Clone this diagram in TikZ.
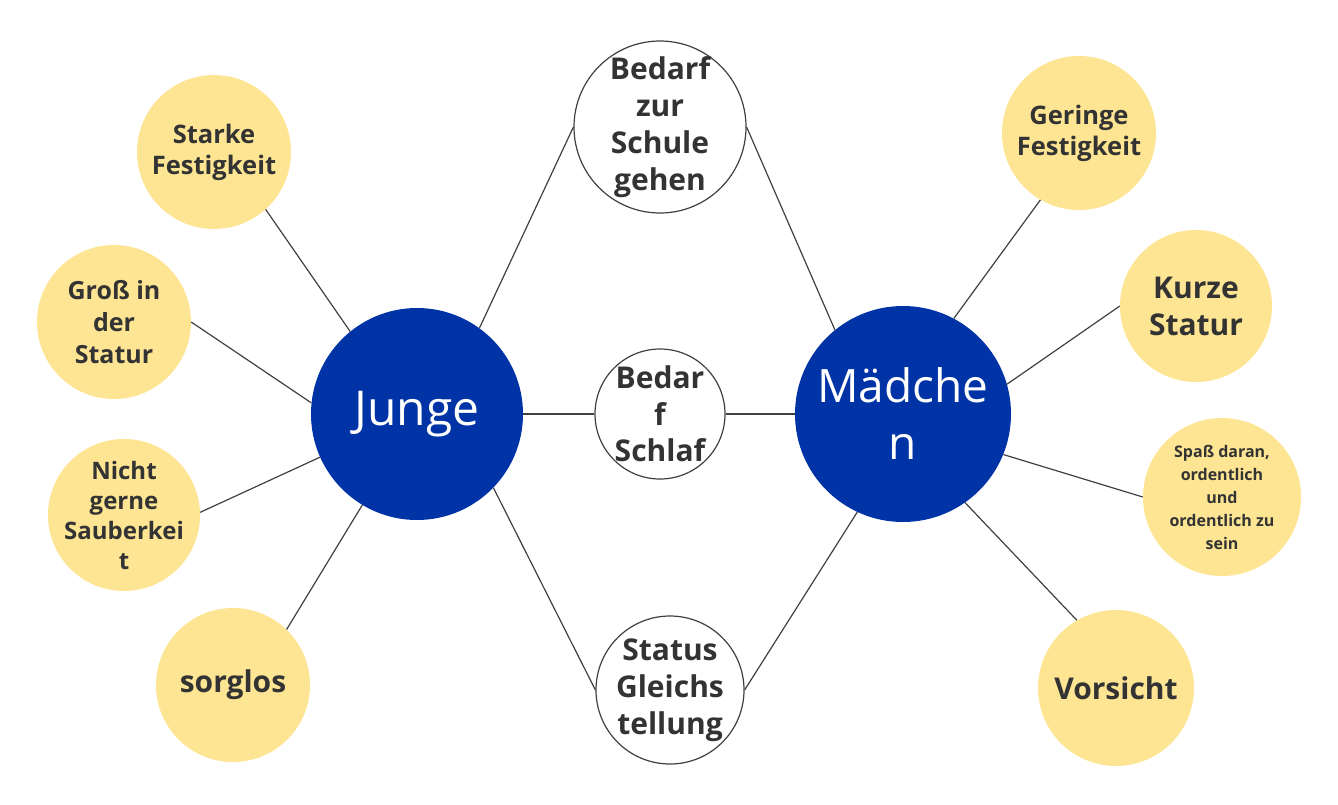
\documentclass[tikz,border=0pt]{standalone}
\usepackage{fontspec}
\setmainfont{Open Sans}
\definecolor{jblue}{HTML}{0033A6}
\definecolor{ylw}{HTML}{FDE593}
\definecolor{txt}{HTML}{333333}
\definecolor{ln}{HTML}{404040}
\begin{document}
\begin{tikzpicture}[x=1pt,y=-1pt,
  bigc/.style={circle, fill=jblue, inner sep=0pt},
  yelc/.style={circle, fill=ylw, inner sep=0pt},
  whtc/.style={circle, draw=ln, line width=1.2pt, fill=white, inner sep=0pt},
  bigt/.style={text=white, align=center, font=\fontsize{48}{57}\selectfont},
  yelt/.style={text=txt, align=center, font=\bfseries\fontsize{25.5}{31}\selectfont},
  whtt/.style={text=txt, align=center, font=\bfseries\fontsize{30}{37}\selectfont},
  conn/.style={draw=ln, line width=1.2pt}]
\useasboundingbox (0,0) rectangle (1338,804);
% central nodes
\node[bigc, minimum size=212pt, label={[bigt]center:Junge}] (junge) at (417,414) {};
\node[bigc, minimum size=216pt, label={[bigt, font=\fontsize{46}{57}\selectfont]center:Mädche\\n}] (maedchen) at (903,414) {};
% middle white nodes
\node[whtc, minimum size=172pt, label={[whtt]center:Bedarf\\zur\\Schule\\gehen}] (schule) at (660,127) {};
\node[whtc, minimum size=130pt, label={[whtt, font=\bfseries\fontsize{30}{36.5}\selectfont]center:Bedar\\f\\Schlaf}] (schlaf) at (660,414) {};
\node[whtc, minimum size=148pt, label={[whtt]center:Status\\Gleichs\\tellung}] (status) at (670,690) {};
% left yellow nodes
\node[yelc, minimum size=154pt, label={[yelt]center:Starke\\Festigkeit}] (starke) at (214,152) {};
\node[yelc, minimum size=154pt, label={[yelt, font=\bfseries\fontsize{25}{32}\selectfont]center:Groß in\\der\\Statur}] (gross) at (114,322) {};
\node[yelc, minimum size=152pt, label={[yelt, font=\bfseries\fontsize{24}{30}\selectfont]center:Nicht\\gerne\\Sauberkei\\t}] (nicht) at (124,515) {};
\node[yelc, minimum size=154pt, label={[yelt, font=\bfseries\fontsize{30}{37}\selectfont]center:sorglos}] (sorglos) at (233,685) {};
% right yellow nodes
\node[yelc, minimum size=154pt, label={[yelt]center:Geringe\\Festigkeit}] (geringe) at (1079,133) {};
\node[yelc, minimum size=152pt, label={[yelt, font=\bfseries\fontsize{30}{37}\selectfont]center:Kurze\\Statur}] (kurze) at (1196,306) {};
\node[yelc, minimum size=158pt, label={[yelt, font=\bfseries\fontsize{16}{23}\selectfont]center:Spaß daran,\\ordentlich\\und\\ordentlich zu\\sein}] (spass) at (1222,497) {};
\node[yelc, minimum size=156pt, label={[yelt, font=\bfseries\fontsize{30}{37}\selectfont]center:Vorsicht}] (vorsicht) at (1116,688) {};
% connectors
\draw[conn] (junge.129) -- (starke.-48);
\draw[conn] (junge.174) -- (gross.0);
\draw[conn] (junge.204) -- (nicht.2);
\draw[conn] (junge.239) -- (sorglos.46);
\draw[conn] (junge.54) -- (schule.180);
\draw[conn] (junge.0) -- (schlaf.180);
\draw[conn] (junge.-44) -- (status.180);
\draw[conn] (maedchen.129) -- (schule.0);
\draw[conn] (maedchen.180) -- (schlaf.0);
\draw[conn] (maedchen.245) -- (status.0);
\draw[conn] (maedchen.62) -- (geringe.240);
\draw[conn] (maedchen.16) -- (kurze.180);
\draw[conn] (maedchen.-22) -- (spass.180);
\draw[conn] (maedchen.-55) -- (vorsicht.120);
\end{tikzpicture}
\end{document}
